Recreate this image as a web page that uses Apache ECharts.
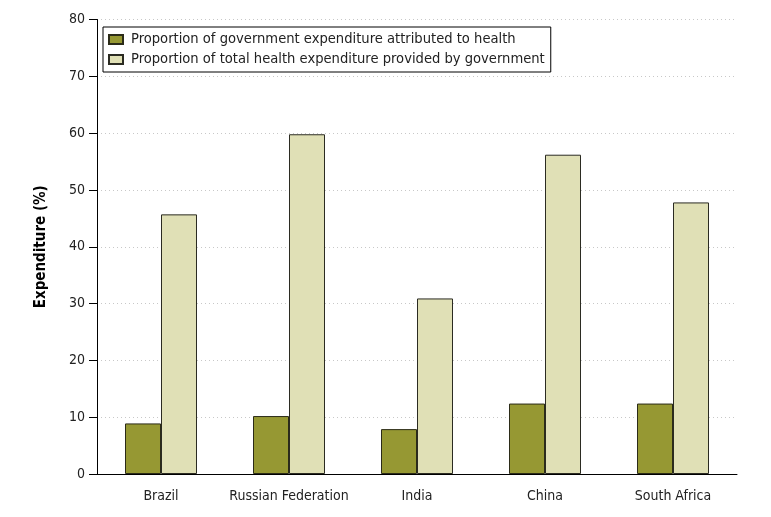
<!DOCTYPE html>
<html><head><meta charset="utf-8">
<script src="https://cdn.jsdelivr.net/npm/echarts@6/dist/echarts.min.js"></script>
<style>html,body{margin:0;padding:0;background:#fff}#c{width:771px;height:517px}</style>
</head><body><div id="c"></div>
<script>
const categories = ['Brazil', 'Russian Federation', 'India', 'China', 'South Africa'];
const govHealthShare = [8.9, 10.2, 7.9, 12.4, 12.4];
const govShareOfHealth = [45.7, 59.8, 30.9, 56.2, 47.8];
const seriesNames = ['Proportion of government expenditure attributed to health', 'Proportion of total health expenditure provided by government'];
const yTicks = [0, 10, 20, 30, 40, 50, 60, 70, 80];

const FONT = '"Liberation Sans Narrow", "DejaVu Sans Condensed", "Open Sans", sans-serif';
const chart = echarts.init(document.getElementById('c'));
chart.setOption({
  animation: false,
  textStyle: { fontFamily: FONT },
  grid: { left: 97, right: 34, top: 19.5, bottom: 43 },
  legend: {
    orient: 'vertical', left: 103, top: 27,
    icon: 'rect',
    itemWidth: 14, itemHeight: 9, itemGap: 5,
    padding: [5, 6, 5, 5],
    borderColor: '#000', borderWidth: 1,
    textStyle: { fontFamily: FONT, fontSize: 14.6, color: '#222', padding: [0, 0, 0, 3] },
    data: seriesNames
  },
  xAxis: {
    type: 'category', data: categories,
    axisLine: { lineStyle: { color: '#000', width: 1 } },
    axisTick: { length: 9, lineStyle: { color: '#000' } },
    axisLabel: { color: '#222', fontSize: 14, margin: 15, fontFamily: FONT, interval: 0 }
  },
  yAxis: {
    type: 'value', min: 0, max: 80, interval: 10,
    name: 'Expenditure (%)', nameLocation: 'middle', nameGap: 48,
    nameTextStyle: { fontWeight: 'bold', fontSize: 15, color: '#000', fontFamily: FONT },
    axisLine: { show: true, lineStyle: { color: '#000' } },
    axisTick: { show: true, length: 8, lineStyle: { color: '#000' } },
    axisLabel: { color: '#222', fontSize: 14, margin: 12, fontFamily: FONT,
      formatter: v => yTicks.includes(v) ? String(v) : '' },
    splitLine: { show: true, lineStyle: { color: '#c8c8c8', type: [1, 3], width: 1 } }
  },
  series: [
    { name: seriesNames[0], type: 'bar', data: govHealthShare, barGap: '0%', barCategoryGap: '43.75%',
      itemStyle: { color: '#969833', borderColor: '#2b2b18', borderWidth: 1 } },
    { name: seriesNames[1], type: 'bar', data: govShareOfHealth, barGap: '0%', barCategoryGap: '43.75%',
      itemStyle: { color: '#e0e0b6', borderColor: '#2b2b22', borderWidth: 1 } }
  ]
});
</script></body></html>
